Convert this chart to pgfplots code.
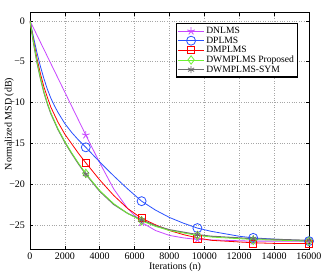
\documentclass[border=0pt]{standalone}
\usepackage{fontspec}
\setmainfont{Liberation Serif}
\usepackage{pgfplots}
\pgfplotsset{compat=1.18}
\definecolor{cMag}{RGB}{200,70,255}
\definecolor{cBlue}{RGB}{40,80,255}
\definecolor{cRed}{RGB}{255,0,0}
\definecolor{cGreen}{RGB}{110,240,50}
\definecolor{cGray}{RGB}{110,110,110}
\begin{document}
\begin{tikzpicture}
\begin{axis}[
  scale only axis,
  width=279pt, height=236.6pt,
  xmin=0, xmax=16000, ymin=-28, ymax=1,
  scaled x ticks=false, scaled y ticks=false,
  xtick={0,2000,4000,6000,8000,10000,12000,14000,16000},
  xticklabels={0,2000,4000,6000,8000,10000,12000,14000,16000},
  ytick={-25,-20,-15,-10,-5,0},
  yticklabels={−25,−20,−15,−10,−5,0},
  /pgf/number format/assume math mode=true,
  tick label style={font=\fontsize{10}{11}\selectfont},
  xticklabel style={yshift=-0.5pt},
  yticklabel style={xshift=-1.5pt},
  tick align=inside, major tick length=3pt,
  tick style={black, line width=0.5pt},
  grid=major, grid style={dotted, gray!70, line width=0.5pt},
  axis line style={black, line width=0.7pt},
  xlabel={Iterations (n)}, ylabel={Normalized MSD (dB)},
  label style={font=\fontsize{13.5}{15}\selectfont},
  every axis x label/.style={at={(axis description cs:0.52,-0.077)}, anchor=center},
  every axis y label/.style={at={(axis description cs:-0.0745,0.53)}, anchor=center, rotate=90},
  legend style={at={(axis description cs:0.961,0.956)}, anchor=north east,
    draw=black, line width=1.2pt, font=\fontsize{9.6}{10}\selectfont,
    inner sep=1.5pt, row sep=-2.3pt, cells={anchor=west}},
  legend image code/.code={\draw[mark repeat=2,mark phase=2,#1] plot coordinates {(0cm,0cm) (0.45cm,0cm) (0.9cm,0cm)};},
]
% DNLMS
\addplot[cMag, line width=0.8pt, forget plot] coordinates {
(0,0) (800,-3.5) (1600,-7.0) (2400,-10.5) (3200,-14.0) (4000,-17.4) (4800,-20.6) (5600,-23.0) (6400,-24.7) (7200,-25.7) (8000,-26.3) (8800,-26.6) (9600,-26.8) (11200,-26.9) (12800,-27.0) (14400,-27.0) (16000,-27.0)};
% DPLMS
\addplot[cBlue, line width=0.8pt, forget plot] coordinates {
(0,0) (200,-2.0) (400,-3.9) (600,-5.6) (800,-7.1) (1000,-8.4) (1200,-9.5) (1400,-10.4) (1600,-11.2) (2000,-12.6) (2400,-13.7) (2800,-14.65) (3200,-15.5) (4000,-17.3) (4800,-19.0) (5600,-20.6) (6400,-22.1) (7200,-23.2) (8000,-24.1) (8800,-24.8) (9600,-25.4) (10400,-25.8) (11200,-26.1) (12000,-26.4) (12800,-26.6) (14400,-26.8) (16000,-27.0)};
% DMPLMS
\addplot[cRed, line width=0.8pt, forget plot] coordinates {
(0,0) (200,-2.4) (400,-4.6) (600,-6.5) (800,-8.1) (1000,-9.4) (1200,-10.6) (1600,-12.4) (2000,-13.9) (2400,-15.1) (2800,-16.3) (3200,-17.4) (4000,-19.5) (4800,-21.4) (5600,-23.0) (6400,-24.2) (7200,-25.0) (8000,-25.7) (8800,-26.2) (9600,-26.6) (10400,-26.9) (11200,-27.0) (12000,-27.1) (12800,-27.2) (14400,-27.3) (16000,-27.3)};
% DWMPLMS-SYM
\addplot[cGray, line width=1.1pt, forget plot] coordinates {
(0,0) (200,-2.7) (400,-5.1) (600,-7.1) (800,-8.8) (1000,-10.2) (1200,-11.4) (1600,-13.3) (2000,-14.9) (2400,-16.3) (2800,-17.6) (3200,-18.8) (4000,-20.9) (4800,-22.5) (5600,-23.6) (6400,-24.4) (7200,-25.1) (8000,-25.6) (8800,-25.9) (9600,-26.2) (10400,-26.4) (11200,-26.5) (12000,-26.6) (12800,-26.7) (14400,-26.8) (16000,-26.9)};
% DWMPLMS Proposed
\addplot[cGreen, line width=0.8pt, forget plot] coordinates {
(0,0) (200,-2.6) (400,-5.0) (600,-7.0) (800,-8.7) (1000,-10.1) (1200,-11.3) (1600,-13.2) (2000,-14.8) (2400,-16.2) (2800,-17.5) (3200,-18.7) (4000,-20.8) (4800,-22.4) (5600,-23.6) (6400,-24.5) (7200,-25.2) (8000,-25.7) (8800,-26.0) (9600,-26.3) (10400,-26.5) (11200,-26.6) (12000,-26.7) (12800,-26.8) (14400,-26.9) (16000,-27.0)};
% markers
\addplot[cMag, only marks, mark=star, mark size=4pt, mark options={line width=0.8pt}, forget plot] coordinates {
(3200,-14.0) (6400,-24.7) (9600,-26.8) (12800,-27.0) (16000,-27.0)};
\addplot[cBlue, only marks, mark=o, mark size=4.5pt, mark options={line width=0.8pt}, forget plot] coordinates {
(3200,-15.5) (6400,-22.1) (9600,-25.4) (12800,-26.6) (16000,-27.0)};
\addplot[cRed, only marks, mark=square, mark size=3.6pt, mark options={line width=0.8pt}, forget plot] coordinates {
(3200,-17.4) (6400,-24.2) (9600,-26.7) (12800,-27.3) (16000,-27.3)};
\addplot[cGreen, only marks, mark=diamond, mark size=4.2pt, mark options={line width=0.8pt}, forget plot] coordinates {
(3200,-18.7) (6400,-24.5) (9600,-26.3) (12800,-26.9) (16000,-27.0)};
\addplot[cGray, only marks, mark=asterisk, mark size=3.5pt, mark options={line width=0.8pt}, forget plot] coordinates {
(3200,-18.8) (6400,-24.4) (9600,-26.2) (12800,-26.7) (16000,-26.9)};
\addlegendimage{cMag, line width=0.8pt, mark=star, mark size=4pt}
\addlegendentry{DNLMS}
\addlegendimage{cBlue, line width=0.8pt, mark=o, mark size=4.5pt}
\addlegendentry{DPLMS}
\addlegendimage{cRed, line width=0.8pt, mark=square, mark size=3.6pt}
\addlegendentry{DMPLMS}
\addlegendimage{cGreen, line width=0.8pt, mark=diamond, mark size=4.2pt}
\addlegendentry{DWMPLMS Proposed}
\addlegendimage{cGray, line width=0.8pt, mark=asterisk, mark size=3.5pt}
\addlegendentry{DWMPLMS{-}SYM}
\end{axis}
\pgfresetboundingbox
\path ([shift={(-30pt,-23.7pt)}]current axis.south west) rectangle ([shift={(13pt,12.7pt)}]current axis.north east);
\end{tikzpicture}
\end{document}
